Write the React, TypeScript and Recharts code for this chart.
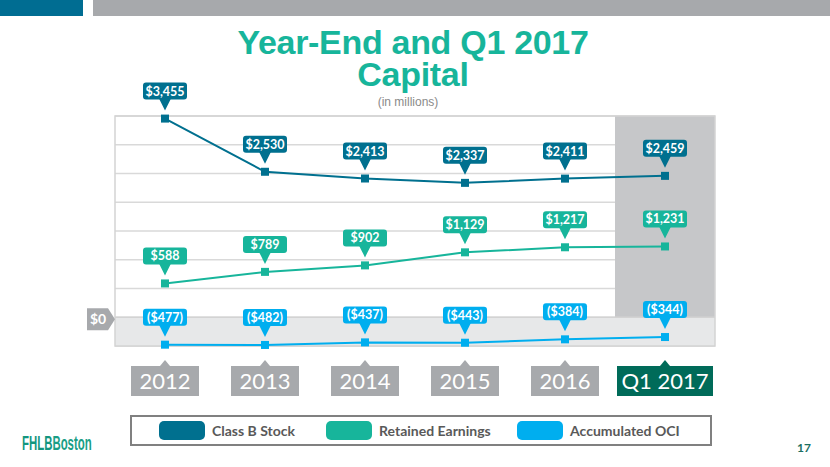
import { ComposedChart, Line, XAxis, YAxis, CartesianGrid, ReferenceArea, ReferenceLine, LabelList } from "recharts"

const categories = ["2012", "2013", "2014", "2015", "2016", "Q1 2017"]
const classBStock = [3455, 2530, 2413, 2337, 2411, 2459]
const retainedEarnings = [588, 789, 902, 1129, 1217, 1231]
const accumulatedOCI = [-477, -482, -437, -443, -384, -344]
const yTicks = [-500, 0, 500, 1000, 1500, 2000, 2500, 3000, 3500]

const series = [
  { key: "classB", name: "Class B Stock", color: "#00708f" },
  { key: "retained", name: "Retained Earnings", color: "#17b59b" },
  { key: "aoci", name: "Accumulated OCI", color: "#00aeef" },
]

const data = categories.map((period, i) => ({
  period,
  classB: classBStock[i],
  retained: retainedEarnings[i],
  aoci: accumulatedOCI[i],
}))

const arial = "'Liberation Sans', Arial, sans-serif"
// legend item left edges (page px)
const legendLefts = [159, 326, 517]

// $1,234 or ($123) for negatives
const fmt = (v: number) =>
  v < 0 ? `($${Math.abs(v).toLocaleString("en-US")})` : `$${v.toLocaleString("en-US")}`

const makeCallout = (color: string) => (props: any) => {
  const x = props.x ?? props.viewBox?.x
  const y = props.y ?? props.viewBox?.y
  if (x == null || y == null) return null
  return (
    <g>
      <rect x={x - 22} y={y - 36} width={44} height={17} rx={3} fill={color} />
      <path d={`M${x - 6},${y - 20} L${x + 6},${y - 20} L${x},${y - 8} Z`} fill={color} />
      <text x={x} y={y - 23} textAnchor="middle" fill="#fff" fontSize={12.5} fontWeight={700} fontFamily="Lato">
        {fmt(props.value)}
      </text>
    </g>
  )
}

const makeDot = (color: string) => (props: any) => {
  const { cx, cy, index } = props
  return <rect key={index} x={cx - 4} y={cy - 4} width={8} height={8} fill={color} />
}

const PeriodTick = ({ x, y, payload }: any) => {
  const label = String(payload.value)
  const isQ = label.startsWith("Q")
  const w = isQ ? 96 : 68
  const fill = isQ ? "#006b59" : "#a7a9ac"
  const top = y + 20
  return (
    <g>
      <path d={`M${x - 5},${top} L${x},${top - 6} L${x + 5},${top} Z`} fill={fill} />
      <rect x={x - w / 2} y={top} width={w} height={30} fill={fill} />
      <text x={x} y={top + 23} textAnchor="middle" fill="#fff" fontSize={22} fontFamily="Lato">
        {label}
      </text>
    </g>
  )
}

const ZeroTag = ({ viewBox }: any) => {
  const x = viewBox.x
  const y = viewBox.y + 2
  return (
    <g>
      <path d={`M${x - 28},${y - 11} L${x - 7},${y - 11} L${x},${y} L${x - 7},${y + 11} L${x - 28},${y + 11} Z`} fill="#a7a9ac" />
      <text x={x - 17} y={y + 5} textAnchor="middle" fill="#fff" fontSize={14} fontWeight={700} fontFamily="Lato">
        $0
      </text>
    </g>
  )
}

const titleStyle = {
  position: "absolute" as const,
  left: 0,
  width: 826,
  textAlign: "center" as const,
  color: "#17b59b",
  fontFamily: arial,
  fontWeight: 700,
  fontSize: 34,
  lineHeight: "32px",
  letterSpacing: -0.3,
}

export default function App() {
  return (
    <div style={{ position: "absolute", left: 0, top: 0, width: 830, height: 467, background: "#fff", overflow: "hidden", fontFamily: "Lato" }}>
      <div style={{ position: "absolute", left: 0, top: 0, width: 83, height: 16, background: "#006d92" }} />
      <div style={{ position: "absolute", left: 93, top: 0, width: 737, height: 16, background: "#a7a9ac" }} />

      <div style={{ ...titleStyle, top: 26 }}>Year-End and Q1 2017</div>
      <div style={{ ...titleStyle, top: 58 }}>Capital</div>
      <div style={{ position: "absolute", left: 0, top: 95, width: 816, textAlign: "center", color: "#8a8a8a", fontFamily: arial, fontSize: 12 }}>
        (in millions)
      </div>

      <ComposedChart width={830} height={467} data={data} margin={{ top: 116, right: 115, bottom: 91, left: 115 }} style={{ position: "absolute", left: 0, top: 0 }}>
        <CartesianGrid vertical={false} stroke="#d9d9d9" strokeWidth={1.5} />
        <XAxis dataKey="period" scale="band" height={30} axisLine={false} tickLine={false} tickSize={0} tickMargin={0} interval={0} tick={<PeriodTick />} />
        <YAxis hide width={0} domain={[-500, 3500]} ticks={yTicks} type="number" />
        <ReferenceArea x1="2012" x2="Q1 2017" y1={-500} y2={0} fill="#e7e8e9" fillOpacity={1} stroke="none" />
        <ReferenceArea x1="Q1 2017" x2="Q1 2017" y1={0} y2={3500} fill="#c6c7c9" fillOpacity={1} stroke="none" />
        <ReferenceArea x1="2012" x2="Q1 2017" y1={-500} y2={3500} fill="none" stroke="#d3d3d3" strokeWidth={1.5} />
        <ReferenceLine y={0} stroke="#d3d3d3" strokeWidth={1.5} label={<ZeroTag />} />
        {series.map((s) => (
          <Line
            key={s.key}
            dataKey={s.key}
            name={s.name}
            type="linear"
            stroke={s.color}
            strokeWidth={2}
            dot={makeDot(s.color)}
            activeDot={false}
            isAnimationActive={false}
          >
            <LabelList dataKey={s.key} content={makeCallout(s.color)} />
          </Line>
        ))}
      </ComposedChart>

      <div style={{ position: "absolute", left: 130, top: 415, width: 578, height: 27, border: "2px solid #808080" }}>
        {series.map((s, i) => (
          <div key={s.key} style={{ position: "absolute", left: legendLefts[i] - 132, top: 4, display: "flex", alignItems: "center" }}>
            <div style={{ width: 46, height: 19, borderRadius: 5, background: s.color }} />
            <span style={{ marginLeft: 7, color: "#595959", fontWeight: 700, fontSize: 14, whiteSpace: "nowrap" }}>{s.name}</span>
          </div>
        ))}
      </div>

      <div style={{ position: "absolute", left: 22, top: 432, color: "#13967f", fontFamily: arial, fontSize: 20, transform: "scaleX(0.57)", transformOrigin: "left top", whiteSpace: "nowrap" }}>
        <span style={{ fontWeight: 700 }}>FHLB</span>
        <span style={{ fontWeight: 700, color: "#1a9e86" }}>Boston</span>
      </div>
      <div style={{ position: "absolute", left: 797, top: 440, color: "#1b6f62", fontWeight: 700, fontSize: 12 }}>17</div>
    </div>
  )
}
